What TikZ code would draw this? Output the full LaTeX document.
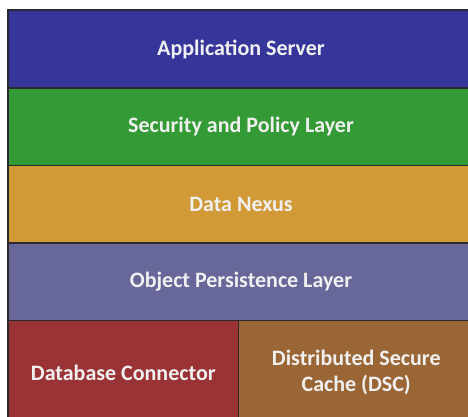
\documentclass[tikz,border=0pt]{standalone}
\usepackage{fontspec}
\setmainfont{Carlito}
\definecolor{appblue}{HTML}{35359A}
\definecolor{secgreen}{HTML}{339A35}
\definecolor{nexgold}{HTML}{D19A37}
\definecolor{objpurple}{HTML}{67679A}
\definecolor{dbred}{HTML}{9A3335}
\definecolor{dscbrown}{HTML}{9A6635}
\definecolor{edge}{HTML}{2A2A30}
\tikzset{
  layer/.style={draw=edge, line width=1.4pt, rectangle, inner sep=0pt,
    text=white!94!black, font=\fontsize{22}{26}\selectfont\bfseries, align=center},
}
\begin{document}
\begin{tikzpicture}[x=1pt, y=-1pt]
\useasboundingbox (0,0) rectangle (468,417);
\fill[white] (0,0) rectangle (468,417);
% stacked layers, top to bottom (right and bottom edges run past the page)
\node[layer, fill=appblue, minimum width=466pt, minimum height=78pt] (app) at (241,49) {Application Server};
\node[layer, fill=secgreen, minimum width=466pt, minimum height=77.5pt] (sec) at (241,126.75) {Security and Policy Layer};
\node[layer, fill=nexgold, minimum width=466pt, minimum height=77.5pt] (nexus) at (241,204.25) {Data Nexus};
\node[layer, fill=objpurple, minimum width=466pt, minimum height=77.5pt] (obj) at (241,281.75) {Object Persistence Layer};
% bottom row
\node[layer, fill=dbred, minimum width=230.5pt, minimum height=104pt] (db) at (123.25,372.5) {Database Connector};
\node[layer, fill=dscbrown, minimum width=235.5pt, minimum height=104pt] (dsc) at (356.25,372.5) {Distributed Secure\\Cache (DSC)};
\end{tikzpicture}
\end{document}
